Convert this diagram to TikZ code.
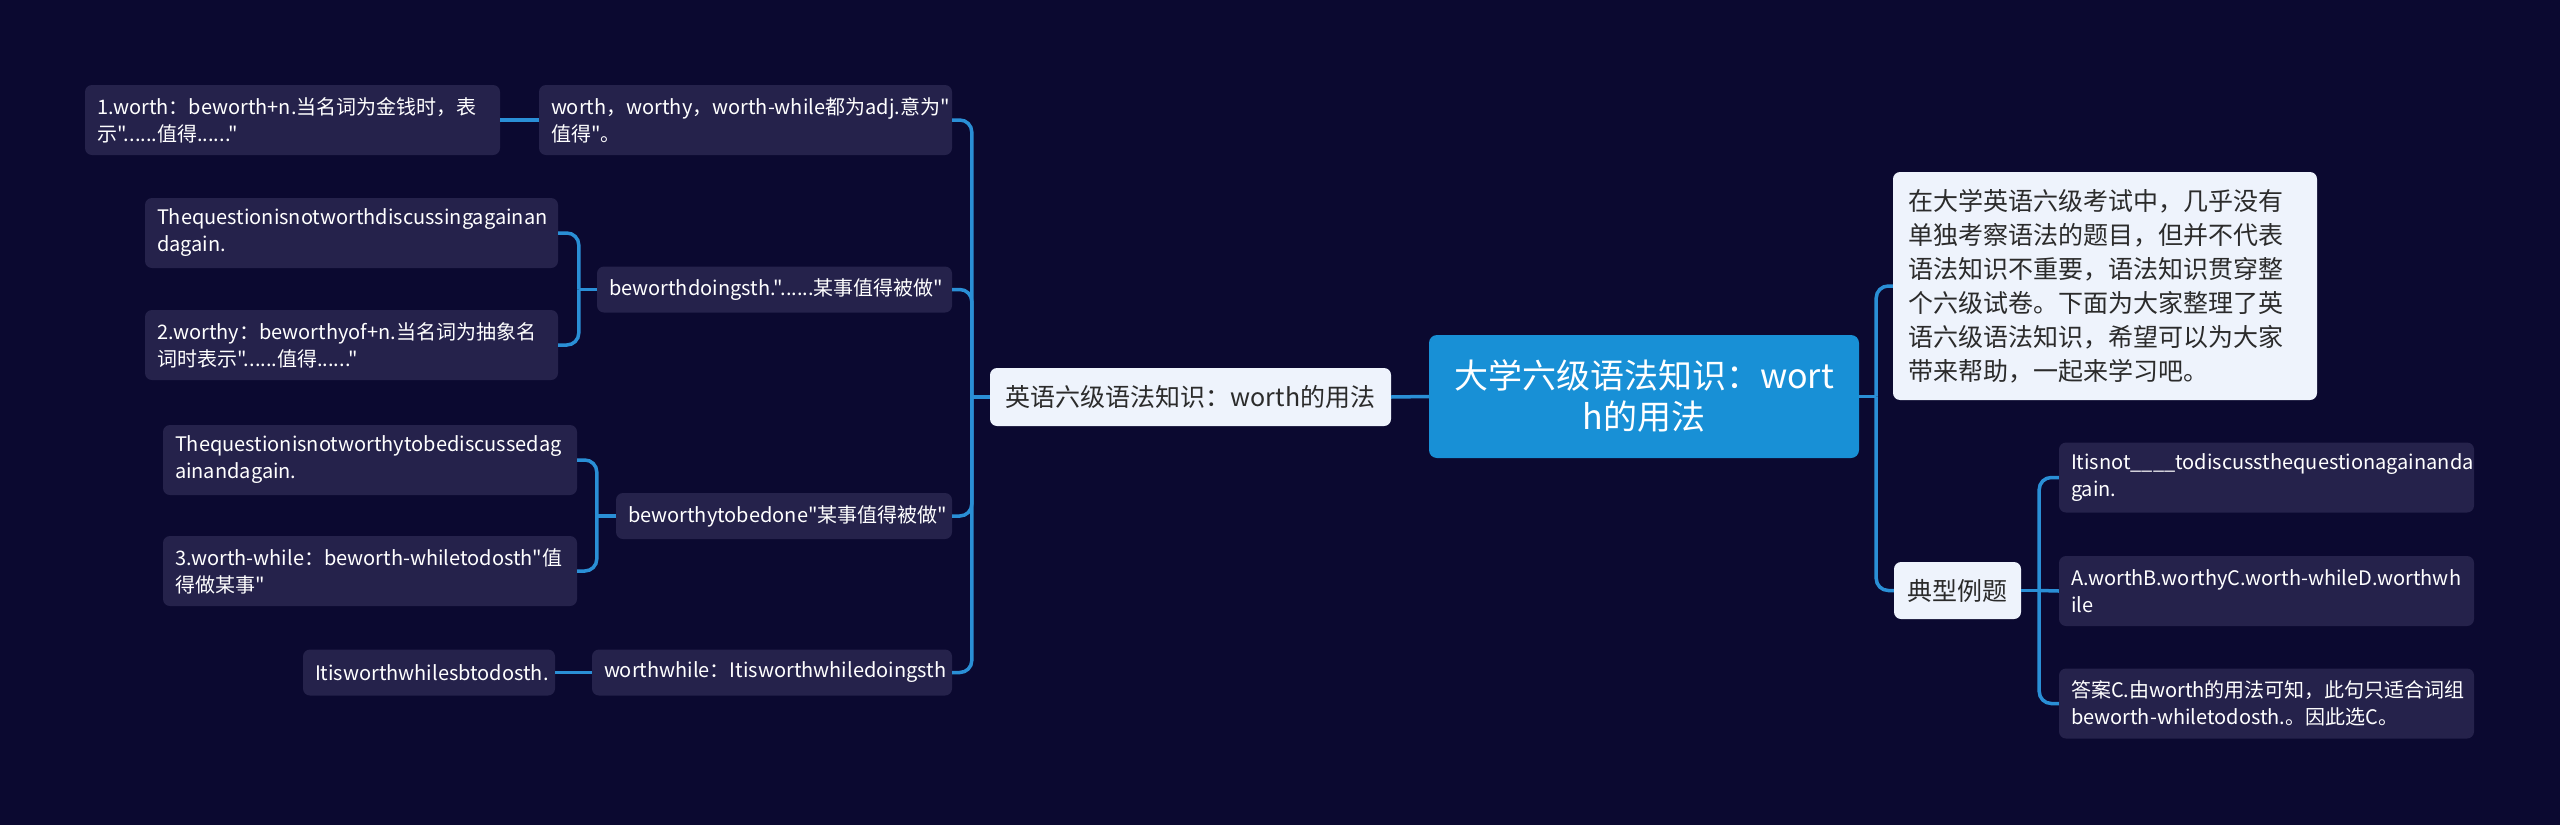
\documentclass[tikz,border=0pt]{standalone}
\usepackage{fontspec}
\setmainfont{Noto Sans CJK SC}[Ligatures=TeXOff]
\usetikzlibrary{calc}
\definecolor{bg}{HTML}{0B0930}
\definecolor{dk}{HTML}{25224B}
\definecolor{ln}{HTML}{2A8FD6}
\definecolor{rt}{HTML}{1890D6}
\definecolor{lt}{HTML}{EEF3FC}
\definecolor{tx}{HTML}{2B2B2B}
\hyphenpenalty=10000
\exhyphenpenalty=10000
\begin{document}
\begin{tikzpicture}[x=1pt,y=-1pt,
  dknode/.style={fill=dk, rounded corners=7pt, text=white, align=left,
    inner xsep=12pt, inner ysep=0pt,
    font=\fontsize{20}{27}\selectfont},
  ltnode/.style={fill=lt, rounded corners=7pt, text=tx, inner xsep=0pt, inner ysep=0pt,
    font=\fontsize{25}{34}\selectfont},
  rootnode/.style={fill=rt, rounded corners=8pt, text=white, align=center, inner sep=0pt,
    font=\fontsize{34}{41}\selectfont},
  conn/.style={draw=ln, line width=3.5pt, rounded corners=12pt}]
\useasboundingbox (0,0) rectangle (2560,825);
\fill[bg] (0,0) rectangle (2560,825);

% root and first level
\node[rootnode, minimum width=430pt, minimum height=123pt] (root) at (1644,396.5) {大学六级语法知识：wort\\h的用法};
\node[ltnode, align=center, minimum width=401pt, minimum height=58pt] (nleft) at (1190.5,397) {英语六级语法知识：worth的用法};
\node[ltnode, align=left, inner xsep=15pt, text width=394pt, minimum height=228pt] (intro) at (2105,286) {在大学英语六级考试中，几乎没有\\单独考察语法的题目，但并不代表\\语法知识不重要，语法知识贯穿整\\个六级试卷。下面为大家整理了英\\语六级语法知识，希望可以为大家\\带来帮助，一起来学习吧。};
\node[ltnode, align=center, minimum width=127pt, minimum height=57pt] (ex) at (1957.5,590.5) {典型例题};

% examples
\node[dknode, text width=391pt, minimum height=70pt] (e1) at (2266.5,477.5) {Itisnot\_\_\_\_todiscussthequestionagainanda\\gain.};
\node[dknode, text width=391pt, minimum height=70pt] (e2) at (2266.5,591) {A.worthB.worthyC.worth-whileD.worthwh\\ile};
\node[dknode, text width=391pt, minimum height=70pt] (e3) at (2266.5,703.5) {答案C.由worth的用法可知，此句只适合词组\\beworth-whiletodosth.。因此选C。};

% left branches
\node[dknode, text width=389pt, minimum height=70pt] (nworth) at (745.5,120) {worth，worthy，worth-while都为adj.意为"\\值得"。};
\node[dknode, text width=391pt, minimum height=70pt] (n1worth) at (292.5,120) {1.worth：beworth+n.当名词为金钱时，表\\示"......值得......"};
\node[dknode, text width=331pt, minimum height=46pt] (ndoing) at (774.5,289.5) {beworthdoingsth."......某事值得被做"};
\node[dknode, text width=389pt, minimum height=70pt] (nq1) at (351.5,233) {Thequestionisnotworthdiscussingagainan\\dagain.};
\node[dknode, text width=389pt, minimum height=70pt] (n2worthy) at (351.5,345) {2.worthy：beworthyof+n.当名词为抽象名\\词时表示"......值得......"};
\node[dknode, text width=312pt, minimum height=46pt] (ndone) at (784,516) {beworthytobedone"某事值得被做"};
\node[dknode, text width=390pt, minimum height=70pt] (nq2) at (370,460) {Thequestionisnotworthytobediscussedag\\ainandagain.};
\node[dknode, text width=390pt, minimum height=70pt] (n3while) at (370,571) {3.worth-while：beworth-whiletodosth"值\\得做某事"};
\node[dknode, text width=336pt, minimum height=46pt] (nwhile) at (772,672.5) {worthwhile：Itisworthwhiledoingsth};
\node[dknode, text width=228pt, minimum height=46pt] (nsb) at (429,672.5) {Itisworthwhilesbtodosth.};

% bus coordinates
\coordinate (busR) at ($(root.east)+(17,0)$);
\coordinate (busL) at ($(nleft.west)+(-18,0)$);
\coordinate (busEx) at ($(ex.east)+(18,0)$);
\coordinate (busDoing) at ($(ndoing.west)+(-18,0)$);
\coordinate (busDone) at ($(ndone.west)+(-19,0)$);

% connectors
\draw[conn] (root.west) -- (nleft.east);
\draw[conn] (root.east) -- (busR);
\draw[conn] (busR) |- (intro.west);
\draw[conn] (busR) |- (ex.west);
\draw[conn] (ex.east) -- (busEx);
\draw[conn] (busEx) |- (e1.west);
\draw[conn] (busEx) |- (e3.west);
\draw[conn] (busEx) -- (e2.west);

\draw[conn] (nleft.west) -- (busL);
\draw[conn] (busL) |- (nworth.east);
\draw[conn] (busL) |- (ndoing.east);
\draw[conn] (busL) |- (ndone.east);
\draw[conn] (busL) |- (nwhile.east);

\draw[conn] (nworth.west) -- (n1worth.east);
\draw[conn] (ndoing.west) -- (busDoing);
\draw[conn] (busDoing) |- (nq1.east);
\draw[conn] (busDoing) |- (n2worthy.east);
\draw[conn] (ndone.west) -- (busDone);
\draw[conn] (busDone) |- (nq2.east);
\draw[conn] (busDone) |- (n3while.east);
\draw[conn] (nwhile.west) -- (nsb.east);
\end{tikzpicture}
\end{document}
